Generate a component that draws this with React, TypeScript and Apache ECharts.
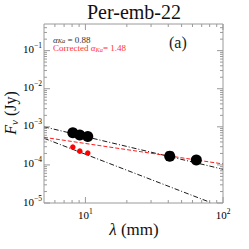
import React, { useEffect, useRef } from "react";
import * as echarts from "echarts";

// Data
const blackWavelengths = [8.1, 9.1, 10.4, 41, 64];
const blackFluxes = [7.0e-4, 6.1e-4, 5.6e-4, 1.7e-4, 1.35e-4];
const redWavelengths = [8.1, 9.1, 10.4];
const redFluxes = [2.95e-4, 2.3e-4, 2.05e-4];
const fitBlack = [[5, 1.0e-3], [100, 7.7e-5]];
const fitRed = [[5, 5.3e-4], [100, 1.06e-4]];
const fitCorrected = [[5, 5.0e-4], [83, 1.0e-5]];

const xMin = 5, xMax = 100, yMin = 1e-5, yMax = 0.5;
const xMajorTicks = [10, 100];
const xMinorTicks = [6, 7, 8, 9, 20, 30, 40, 50, 60, 70, 80, 90];
const xTickExps = ["1", "2"];
const yMajorTicks = [1e-5, 1e-4, 1e-3, 1e-2, 1e-1];
const yTickExps = ["−5", "−4", "−3", "−2", "−1"];
const yMinorMantissas = [2, 3, 4, 5, 6, 7, 8, 9];
const yMinorDecades = [-5, -4, -3, -2, -1];

const FONT = "Liberation Serif, DejaVu Serif, serif";
const FRAME = "#9a9a9a";

export default function App() {
  const ref = useRef<HTMLDivElement>(null);
  useEffect(() => {
    if (!ref.current) return;
    const chart = echarts.init(ref.current, null, { renderer: "svg" });

    const yMinorTicks: number[] = [];
    yMinorDecades.forEach((d) =>
      yMinorMantissas.forEach((m) => {
        const v = m * Math.pow(10, d);
        if (v < yMax) yMinorTicks.push(v);
      })
    );

    const xTickData = [
      ...xMajorTicks.map((v, i) => [v, 1e-3, 0, i]),
      ...xMinorTicks.map((v) => [v, 1e-3, 1, -1]),
    ];
    const yTickData = [
      ...yMajorTicks.map((v, i) => [10, v, 0, i]),
      ...yMinorTicks.map((v) => [10, v, 1, -1]),
    ];

    const rich = {
      b: { fontSize: 11, fontFamily: FONT, color: "#222" },
      s: { fontSize: 7.5, fontFamily: FONT, color: "#222", padding: [0, 0, 7, 0] },
    };

    const annRich = (fill: string) => ({
      a: { fontSize: 9, lineHeight: 8, fontFamily: FONT, fontStyle: "italic", fill },
      k: { fontSize: 6.5, lineHeight: 6, fontFamily: FONT, fontStyle: "italic", fill, padding: [2, 0, 0, 0] },
      n: { fontSize: 9, lineHeight: 8, fontFamily: FONT, fill },
    });

    const option: any = {
      animation: false,
      grid: {
        left: 44,
        top: 24,
        width: 179,
        height: 179,
        show: true,
        borderColor: FRAME,
        borderWidth: 1,
        backgroundColor: "transparent",
      },
      xAxis: {
        type: "log",
        logBase: 10,
        min: xMin,
        max: xMax,
        axisLine: { show: false },
        axisTick: { show: false },
        axisLabel: { show: false },
        splitLine: { show: false },
      },
      yAxis: {
        type: "log",
        logBase: 10,
        min: yMin,
        max: yMax,
        axisLine: { show: false },
        axisTick: { show: false },
        axisLabel: { show: false },
        splitLine: { show: false },
      },
      series: [
        {
          type: "custom",
          silent: true,
          clip: false,
          data: xTickData,
          renderItem: (params: any, api: any) => {
            const v = api.value(0);
            const kind = api.value(2);
            const idx = api.value(3);
            const cs = params.coordSys;
            const px = api.coord([v, yMin])[0];
            const len = kind === 0 ? 6 : 3;
            const bottom = cs.y + cs.height;
            const children: any[] = [
              { type: "line", shape: { x1: px, y1: bottom, x2: px, y2: bottom - len }, style: { stroke: FRAME, lineWidth: 1 } },
              { type: "line", shape: { x1: px, y1: cs.y, x2: px, y2: cs.y + len }, style: { stroke: FRAME, lineWidth: 1 } },
            ];
            if (kind === 0) {
              children.push({
                type: "text",
                x: px,
                y: bottom + 19,
                style: {
                  text: `{b|10}{s|${xTickExps[idx]}}`,
                  rich,
                  align: "center",
                  verticalAlign: "bottom",
                },
              });
            }
            return { type: "group", children };
          },
          z: 5,
        },
        {
          type: "custom",
          silent: true,
          clip: false,
          data: yTickData,
          renderItem: (params: any, api: any) => {
            const v = api.value(1);
            const kind = api.value(2);
            const idx = api.value(3);
            const cs = params.coordSys;
            const py = api.coord([xMin, v])[1];
            const len = kind === 0 ? 6 : 3;
            const right = cs.x + cs.width;
            const children: any[] = [
              { type: "line", shape: { x1: cs.x, y1: py, x2: cs.x + len, y2: py }, style: { stroke: FRAME, lineWidth: 1 } },
              { type: "line", shape: { x1: right, y1: py, x2: right - len, y2: py }, style: { stroke: FRAME, lineWidth: 1 } },
            ];
            if (kind === 0) {
              children.push({
                type: "text",
                x: cs.x - 2,
                y: py + 6,
                style: {
                  text: `{b|10}{s|${yTickExps[idx]}}`,
                  rich,
                  align: "right",
                  verticalAlign: "bottom",
                },
              });
            }
            return { type: "group", children };
          },
          z: 5,
        },
        {
          type: "line",
          data: fitBlack,
          showSymbol: false,
          silent: true,
          lineStyle: { color: "#000", width: 0.9, type: [5, 2, 1, 2] },
          z: 2,
        },
        {
          type: "line",
          data: fitCorrected,
          showSymbol: false,
          silent: true,
          clip: true,
          lineStyle: { color: "#000", width: 0.9, type: [5, 2, 1, 2] },
          z: 2,
        },
        {
          type: "line",
          data: fitRed,
          showSymbol: false,
          silent: true,
          lineStyle: { color: "#ff0000", width: 0.9, type: [4, 2] },
          z: 3,
        },
        {
          type: "scatter",
          data: blackWavelengths.map((x, i) => [x, blackFluxes[i]]),
          symbolSize: 11,
          itemStyle: { color: "#000", opacity: 1 },
          z: 4,
        },
        {
          type: "scatter",
          data: redWavelengths.map((x, i) => [x, redFluxes[i]]),
          symbolSize: 5.5,
          itemStyle: { color: "#ff0000", opacity: 1 },
          z: 4,
        },
      ],
      graphic: [
        {
          type: "text",
          x: 134,
          y: 2,
          style: {
            text: "{t|Per-emb-22}",
            align: "center",
            rich: { t: { fontSize: 20, fontFamily: FONT, fill: "#111" } },
          },
        },
        {
          type: "text",
          x: 53,
          y: 35.5,
          style: { text: "{a|α}{k|Ka}{n| = 0.88}", rich: annRich("#333") },
        },
        {
          type: "text",
          x: 53,
          y: 44,
          style: { text: "{n|Corrected }{a|α}{k|Ka}{n|= 1.48}", rich: annRich("#ff3333") },
        },
        {
          type: "text",
          x: 169,
          y: 34,
          style: {
            text: "{t|(a)}",
            rich: { t: { fontSize: 16, fontFamily: FONT, fill: "#222" } },
          },
        },
        {
          type: "text",
          x: 134,
          y: 221,
          style: {
            text: "{l|λ}{t| (mm)}",
            align: "center",
            rich: {
              l: { fontSize: 17, fontFamily: FONT, fontStyle: "italic", fill: "#111" },
              t: { fontSize: 17, fontFamily: FONT, fill: "#111" },
            },
          },
        },
        {
          type: "text",
          x: 2,
          y: 113,
          rotation: Math.PI / 2,
          style: {
            text: "{f|F}{v|ν}{n| (Jy)}",
            align: "center",
            verticalAlign: "top",
            rich: {
              f: { fontSize: 16, fontFamily: FONT, fontStyle: "italic", fill: "#111" },
              v: { fontSize: 11, fontFamily: FONT, fontStyle: "italic", fill: "#111", padding: [6, 0, 0, 0] },
              n: { fontSize: 16, fontFamily: FONT, fill: "#111" },
            },
          },
        },
      ],
    };
    chart.setOption(option);
    return () => chart.dispose();
  }, []);
  return <div ref={ref} style={{ width: 249, height: 249, position: "absolute", left: 0, top: 0 }} />;
}
